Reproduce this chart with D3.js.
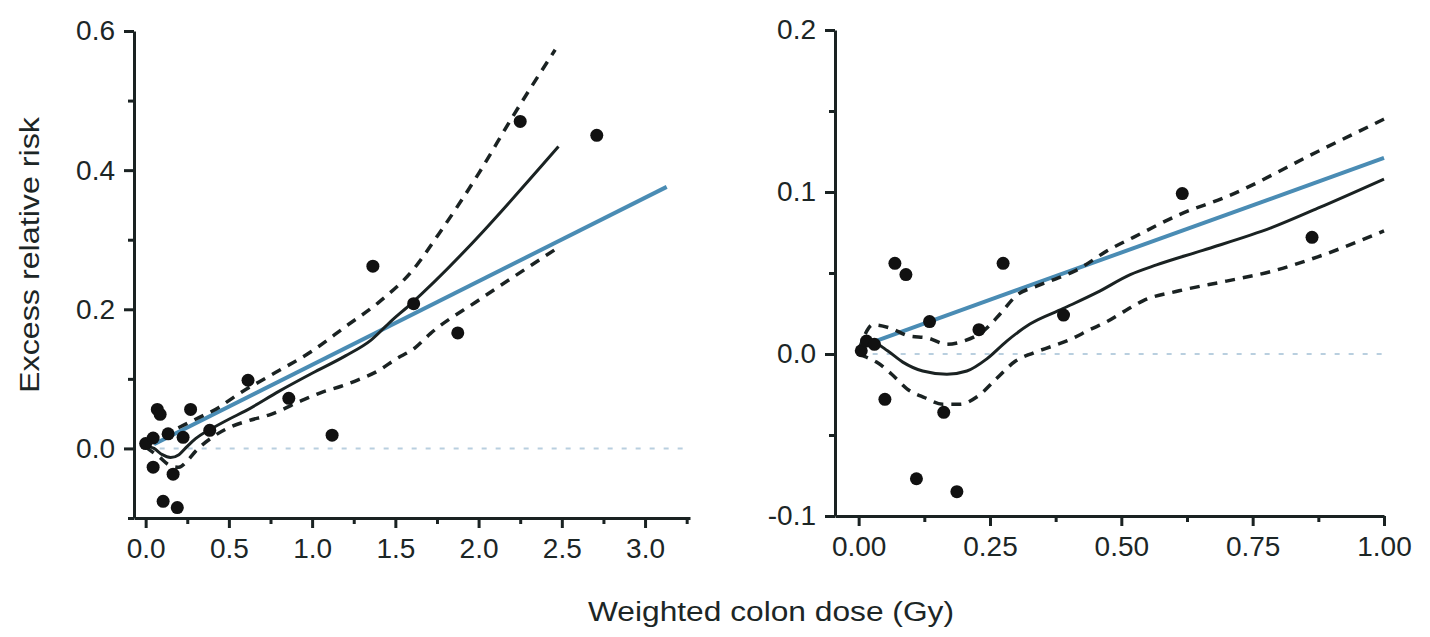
<!DOCTYPE html>
<html>
<head>
<meta charset="utf-8">
<script src="https://cdn.jsdelivr.net/npm/d3@7"></script>
<style>
  body { margin: 0; background: #fff; }
  text { font-family: "Liberation Sans", Arial, sans-serif; fill: #1c2626; }
</style>
</head>
<body>
<svg id="chart" width="1430" height="637"></svg>
<script>
// left panel: full dose range (dose in Gy, excess relative risk)
const leftPoints = [
  [0.0, 0.007], [0.045, 0.015], [0.07, 0.056], [0.087, 0.049], [0.135, 0.021],
  [0.225, 0.016], [0.27, 0.056], [0.385, 0.026], [0.045, -0.027], [0.165, -0.037],
  [0.105, -0.076], [0.19, -0.085], [0.615, 0.098], [0.86, 0.072], [1.12, 0.019],
  [1.365, 0.262], [1.61, 0.208], [1.875, 0.166], [2.25, 0.47], [2.71, 0.45]
];
const leftFit = [[0.0, 0.004], [0.05, 0.0], [0.1, -0.009], [0.15, -0.013], [0.2, -0.009],
  [0.25, 0.003], [0.3, 0.014], [0.4, 0.029], [0.5, 0.042], [0.6, 0.054], [0.8, 0.082],
  [1.0, 0.108], [1.2, 0.133], [1.35, 0.155], [1.47, 0.182], [1.58, 0.205], [2.48, 0.434]];
const leftUpper = [[0.0, 0.008], [0.1, 0.018], [0.2, 0.03], [0.3, 0.042], [0.44, 0.059],
  [0.55, 0.077], [0.75, 0.105], [1.0, 0.14], [1.2, 0.175], [1.4, 0.21], [1.6, 0.255],
  [1.76, 0.308], [2.0, 0.395], [2.2, 0.475], [2.46, 0.573]];
const leftLower = [[0.0, 0.002], [0.08, -0.012], [0.15, -0.025], [0.2, -0.027], [0.25, -0.018],
  [0.3, -0.004], [0.4, 0.016], [0.52, 0.032], [0.62, 0.04], [0.74, 0.048], [0.95, 0.07],
  [1.05, 0.08], [1.17, 0.089], [1.28, 0.099], [1.4, 0.112], [1.5, 0.128], [1.62, 0.145],
  [1.71, 0.165], [2.0, 0.213], [2.2, 0.245], [2.48, 0.289]];
const leftLinear = [[0.05, 0.006], [3.13, 0.376]];

// right panel: 0 - 1 Gy
const rightPoints = [
  [0.005, 0.002], [0.015, 0.008], [0.03, 0.006], [0.069, 0.056], [0.09, 0.049],
  [0.275, 0.056], [0.135, 0.020], [0.229, 0.015], [0.39, 0.024], [0.05, -0.028],
  [0.162, -0.036], [0.11, -0.077], [0.187, -0.085], [0.616, 0.099], [0.863, 0.072]
];
const rightFit = [[0.01, 0.008], [0.03, 0.007], [0.055, 0.002], [0.084, -0.005], [0.122, -0.0105],
  [0.168, -0.0125], [0.206, -0.0105], [0.244, -0.003], [0.282, 0.008], [0.326, 0.0185],
  [0.389, 0.028], [0.454, 0.038], [0.517, 0.049], [0.567, 0.055], [0.655, 0.064],
  [0.786, 0.078], [0.874, 0.09], [1.0, 0.108]];
const rightUpper = [[0.0, 0.002], [0.012, 0.012], [0.027, 0.018], [0.06, 0.016], [0.097, 0.011],
  [0.13, 0.01], [0.168, 0.006], [0.2, 0.008], [0.237, 0.014], [0.27, 0.025], [0.3, 0.036],
  [0.34, 0.042], [0.38, 0.047], [0.41, 0.051], [0.48, 0.065], [0.523, 0.072], [0.61, 0.086],
  [0.7, 0.097], [0.874, 0.125], [1.0, 0.145]];
const rightLower = [[0.0, 0.0], [0.015, -0.002], [0.034, -0.005], [0.063, -0.0125], [0.092, -0.0215],
  [0.126, -0.027], [0.16, -0.031], [0.193, -0.031], [0.227, -0.026], [0.263, -0.015],
  [0.298, -0.0045], [0.332, 0.0006], [0.37, 0.005], [0.403, 0.009], [0.44, 0.015],
  [0.473, 0.02], [0.504, 0.026], [0.542, 0.033], [0.61, 0.039], [0.7, 0.045],
  [0.786, 0.051], [0.874, 0.06], [1.0, 0.076]];
const rightLinear = [[0.015, 0.006], [1.0, 0.121]];

const leftXMajor = [0, 0.5, 1.0, 1.5, 2.0, 2.5, 3.0];
const leftXMinor = [0.25, 0.75, 1.25, 1.75, 2.25, 2.75, 3.25];
const leftYMajor = [0.0, 0.2, 0.4, 0.6];
const leftYMinor = [-0.1, 0.1, 0.3, 0.5];
const rightXMajor = [0, 0.25, 0.5, 0.75, 1.0];
const rightXMinor = [0.125, 0.375, 0.625, 0.875];
const rightYMajor = [-0.1, 0.0, 0.1, 0.2];
const rightYMinor = [-0.05, 0.05, 0.15];

const svg = d3.select("#chart");
const ink = "#1a2222";
const blue = "#4a8cb4";

// plain hyphen for negatives, like the original figure
const fmt = spec => d => d3.format(spec)(d).replace("\u2212", "-");

function drawPanel(opt) {
  const x = d3.scaleLinear().domain(opt.xDomain).range(opt.xRange);
  const y = d3.scaleLinear().domain(opt.yDomain).range(opt.yRange);
  const g = svg.append("g");

  // zero reference
  g.append("line")
    .attr("x1", x(0)).attr("x2", x(opt.zeroEnd))
    .attr("y1", y(0)).attr("y2", y(0))
    .attr("stroke", "#b9cfdf")
    .attr("stroke-width", 2)
    .attr("stroke-dasharray", "5,9");

  const line = d3.line().x(d => x(d[0])).y(d => y(d[1])).curve(d3.curveMonotoneX);

  g.append("path").datum(opt.linear)
    .attr("d", d3.line().x(d => x(d[0])).y(d => y(d[1])))
    .attr("fill", "none").attr("stroke", blue).attr("stroke-width", 4);

  [opt.upper, opt.lower].forEach(band => {
    g.append("path").datum(band)
      .attr("d", line)
      .attr("fill", "none").attr("stroke", ink)
      .attr("stroke-width", 3.5)
      .attr("stroke-dasharray", "10,8");
  });

  g.append("path").datum(opt.fit)
    .attr("d", line)
    .attr("fill", "none").attr("stroke", ink).attr("stroke-width", 3);

  g.selectAll("circle")
    .data(opt.points)
    .join("circle")
    .attr("cx", d => x(d[0]))
    .attr("cy", d => y(d[1]))
    .attr("r", 6.5)
    .attr("fill", "#111");

  // axes
  g.append("g")
    .attr("transform", `translate(0,${opt.yRange[0]})`)
    .call(d3.axisBottom(x).tickValues(opt.xMajor).tickFormat(fmt(opt.xFmt))
      .tickSize(10).tickSizeOuter(0).tickPadding(10));
  g.append("g")
    .attr("transform", `translate(0,${opt.yRange[0]})`)
    .call(d3.axisBottom(x).tickValues(opt.xMinor).tickFormat("").tickSize(6).tickSizeOuter(0))
    .select(".domain").remove();

  g.append("g")
    .attr("transform", `translate(${opt.xRange[0]},0)`)
    .call(d3.axisLeft(y).tickValues(opt.yMajor).tickFormat(fmt(".1f"))
      .tickSize(10).tickSizeOuter(0).tickPadding(9));
  g.append("g")
    .attr("transform", `translate(${opt.xRange[0]},0)`)
    .call(d3.axisLeft(y).tickValues(opt.yMinor).tickFormat("").tickSize(6).tickSizeOuter(0))
    .select(".domain").remove();

  g.selectAll(".domain, .tick line")
    .attr("stroke", ink)
    .attr("stroke-width", 3);
  g.selectAll(".tick text")
    .attr("font-size", 28)
    .attr("font-family", "Liberation Sans")
    .attr("fill", ink);
}

drawPanel({
  xDomain: [-0.07, 3.27], xRange: [134, 690],
  yDomain: [-0.1, 0.6], yRange: [518, 31],
  points: leftPoints, fit: leftFit, upper: leftUpper, lower: leftLower,
  linear: leftLinear, zeroEnd: 3.27,
  xMajor: leftXMajor, xMinor: leftXMinor, yMajor: leftYMajor, yMinor: leftYMinor,
  xFmt: ".1f"
});

drawPanel({
  xDomain: [-0.045, 1.0], xRange: [835, 1384],
  yDomain: [-0.1, 0.2], yRange: [516, 30],
  points: rightPoints, fit: rightFit, upper: rightUpper, lower: rightLower,
  linear: rightLinear, zeroEnd: 1.0,
  xMajor: rightXMajor, xMinor: rightXMinor, yMajor: rightYMajor, yMinor: rightYMinor,
  xFmt: ".2f"
});

svg.append("text")
  .attr("x", 771)
  .attr("y", 621)
  .attr("text-anchor", "middle")
  .attr("font-size", 27)
  .attr("textLength", 366)
  .attr("lengthAdjust", "spacingAndGlyphs")
  .text("Weighted colon dose (Gy)");

svg.append("text")
  .attr("transform", "translate(39,255) rotate(-90)")
  .attr("text-anchor", "middle")
  .attr("font-size", 27)
  .attr("textLength", 276)
  .attr("lengthAdjust", "spacingAndGlyphs")
  .text("Excess relative risk");
</script>
</body>
</html>
